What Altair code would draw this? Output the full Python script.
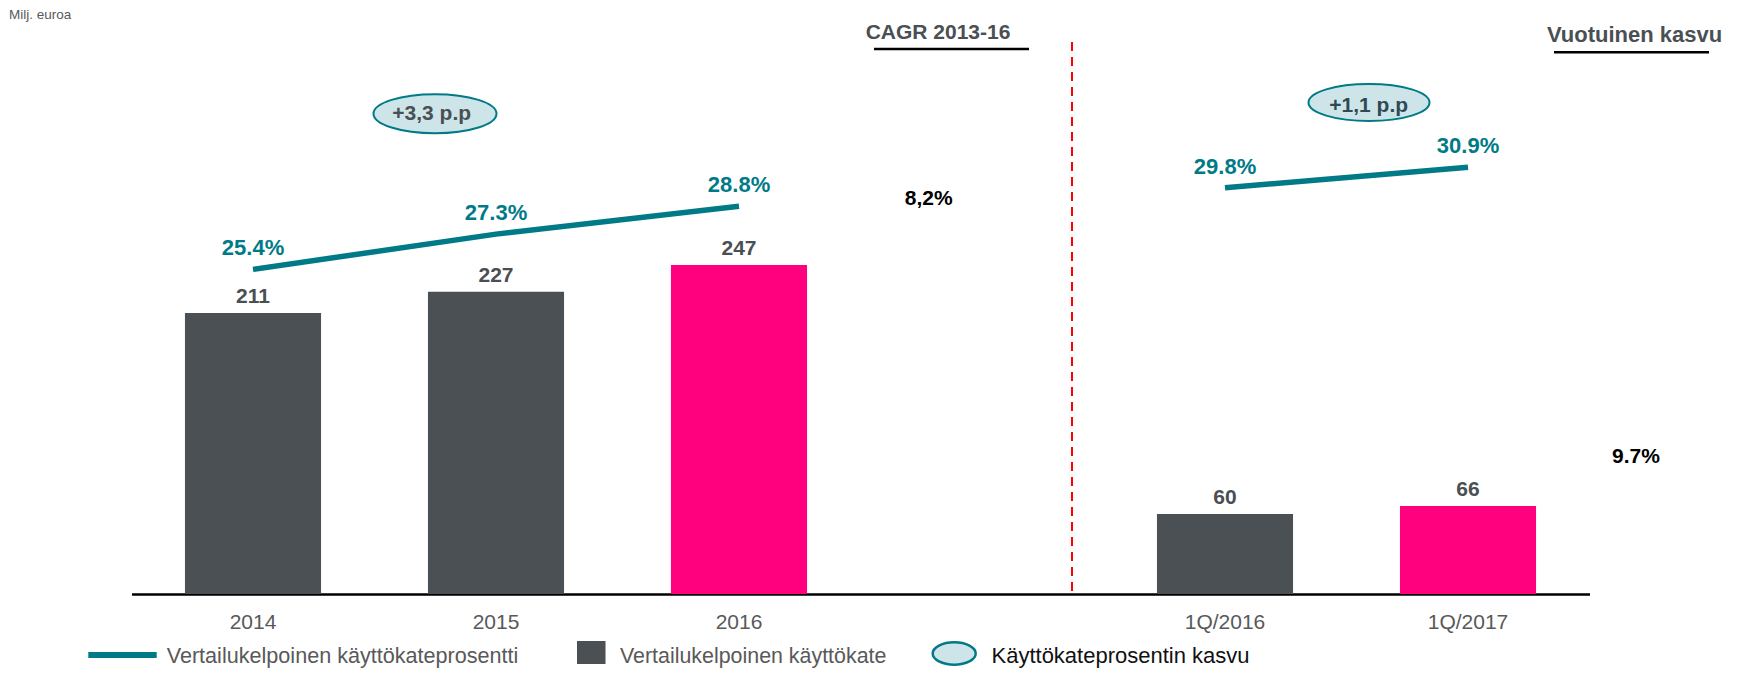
import altair as alt
import pandas as pd

# ---------------- data ----------------
categories = ["2014", "2015", "2016", "CAGR", "1Q/2016", "1Q/2017"]
gap_slot = "CAGR"

bar_categories = ["2014", "2015", "2016", "1Q/2016", "1Q/2017"]
bar_values = [211, 227, 247, 60, 66]
bar_kinds = ["aiempi", "aiempi", "viimeisin", "aiempi", "viimeisin"]

pct_categories = ["2014", "2015", "2016", "1Q/2016", "1Q/2017"]
pct_values = [25.4, 27.3, 28.8, 29.8, 30.9]
pct_groups = ["vuosi", "vuosi", "vuosi", "kvartaali", "kvartaali"]

growth_labels = ["+3,3 p.p", "+1,1 p.p"]
growth_rates = ["8,2%", "9.7%"]
headers = ["CAGR 2013-16", "Vuotuinen kasvu"]
unit_label = "Milj. euroa"
legend_labels = [
    "Vertailukelpoinen käyttökateprosentti",
    "Vertailukelpoinen käyttökate",
    "Käyttökateprosentin kasvu",
]

# ---------------- style ----------------
FONT = "Liberation Sans"
TEAL = "#007A87"
BAR_GRAY = "#4B5055"
PINK = "#FF007F"
TEXT_GRAY = "#4A4F54"
LABEL_GRAY = "#595959"
ELLIPSE_FILL = "#CDE5E8"
W, H = 1458, 586

bars_df = pd.DataFrame({"category": bar_categories, "value": bar_values, "kind": bar_kinds})
line_df = pd.DataFrame({"category": pct_categories, "pct": pct_values, "group": pct_groups})
line_df["order"] = range(len(line_df))

x_enc = alt.X(
    "category:N",
    scale=alt.Scale(domain=categories, paddingInner=0.44, paddingOuter=0.22),
    axis=alt.Axis(
        title=None,
        labelExpr="datum.value == 'CAGR' ? '' : datum.value",
        labelAngle=0,
        labelFont=FONT,
        labelFontSize=21,
        labelColor=LABEL_GRAY,
        labelPadding=34,
        labelBaseline="alphabetic",
        ticks=False,
        tickSize=0,
        domainColor="#000000",
        domainWidth=2.5,
        grid=False,
    ),
)
y_bar = alt.Y("value:Q", scale=alt.Scale(domain=[0, 440], nice=False, zero=True), axis=None)
y_pct = alt.Y("pct:Q", scale=alt.Scale(domain=[7.9, 39.49], nice=False, zero=False), axis=None)

bars = alt.Chart(bars_df).mark_bar().encode(
    x=x_enc,
    y=y_bar,
    color=alt.Color("kind:N", scale=alt.Scale(domain=["aiempi", "viimeisin"], range=[BAR_GRAY, PINK]), legend=None),
)
bar_labels = alt.Chart(bars_df).mark_text(
    dy=-10, baseline="alphabetic", font=FONT, fontSize=21, fontWeight="bold", color=TEXT_GRAY
).encode(x=x_enc, y=y_bar, text="value:Q")

line = alt.Chart(line_df).mark_line(color=TEAL, strokeWidth=5.5, strokeCap="butt").encode(
    x=x_enc, y=y_pct, detail="group:N", order="order:Q"
)
line_labels = alt.Chart(line_df).transform_calculate(
    label="format(datum.pct, '.1f') + '%'"
).mark_text(
    dy=-14, baseline="alphabetic", font=FONT, fontSize=22, fontWeight="bold", color=TEAL
).encode(x=x_enc, y=y_pct, text="label:N")

divider = alt.Chart(pd.DataFrame({"category": [gap_slot]})).mark_rule(
    color="#FF0000", strokeWidth=2, strokeDash=[9, 6], xOffset=90
).encode(x=x_enc, y=alt.value(34), y2=alt.value(H))


def ellipse_path(r):
    k = 0.5523
    kr = round(k * r, 4)
    return (f"M-1,0 C-1,{-kr} {-k},{-r} 0,{-r} C{k},{-r} 1,{-kr} 1,0 "
            f"C1,{kr} {k},{r} 0,{r} C{-k},{r} -1,{kr} -1,0 Z")


def text_at(txt, x, y, size, color, weight="bold", align="center"):
    return alt.Chart(pd.DataFrame({"t": [txt]})).mark_text(
        font=FONT, fontSize=size, fontWeight=weight, color=color, align=align, baseline="alphabetic"
    ).encode(text="t:N", x=alt.value(x), y=alt.value(y))


def hline(tag, x1, x2, y, color, width):
    return alt.Chart(pd.DataFrame({"t": [tag]})).mark_rule(color=color, strokeWidth=width).encode(
        x=alt.value(x1), x2=alt.value(x2), y=alt.value(y)
    )


def ellipse(tag, x, y, w, ratio, sw=2):
    return alt.Chart(pd.DataFrame({"t": [tag]})).mark_point(
        shape=ellipse_path(ratio), size=w * w, filled=True, fill=ELLIPSE_FILL,
        stroke=TEAL, strokeWidth=sw, opacity=1, fillOpacity=1, strokeOpacity=1
    ).encode(x=alt.value(x), y=alt.value(y))


annotations = [
    text_at(unit_label, -122.5, 11, 13.5, LABEL_GRAY, weight="normal", align="left"),
    text_at(headers[0], 806.5, 31.3, 21, TEXT_GRAY),
    hline(headers[0], 742.5, 897.5, 41, "#000000", 2.5),
    text_at(headers[1], 1503, 33.7, 22, TEXT_GRAY),
    hline(headers[1], 1422.5, 1577.5, 44.3, "#000000", 2.5),
    ellipse(growth_labels[0], 303.5, 105.7, 123, 0.317),
    text_at(growth_labels[0], 300.2, 112, 21, TEXT_GRAY),
    ellipse(growth_labels[1], 1237.5, 94.5, 121, 0.306),
    text_at(growth_labels[1], 1237.2, 103.7, 21, "#2F4A55"),
    text_at(growth_rates[0], 797.2, 197, 21, "#000000"),
    text_at(growth_rates[1], 1504.5, 455.3, 21, "#000000"),
    # legend
    hline(legend_labels[0], -43.2, 25.2, 647, TEAL, 6),
    text_at(legend_labels[0], 35.2, 654.7, 21.6, LABEL_GRAY, weight="normal", align="left"),
    alt.Chart(pd.DataFrame({"t": [legend_labels[1]]})).mark_rect(color=BAR_GRAY).encode(
        x=alt.value(445.5), x2=alt.value(474), y=alt.value(633), y2=alt.value(656)
    ),
    text_at(legend_labels[1], 488.5, 655.3, 21.4, LABEL_GRAY, weight="normal", align="left"),
    ellipse(legend_labels[2], 822.7, 645.5, 43, 0.52, sw=2.5),
    text_at(legend_labels[2], 860, 655, 22, "#111111", weight="normal", align="left"),
]

chart = alt.layer(
    bars, bar_labels, line, line_labels, divider, *annotations
).resolve_scale(y="independent").properties(
    width=W,
    height=H,
    autosize=alt.AutoSizeParams(type="none"),
    padding={"left": 123.5, "top": 0, "right": 141.5, "bottom": 87},
    background="white",
).configure(font=FONT).configure_view(strokeWidth=0, strokeOpacity=0)

chart.save("out.html", embed_options={"renderer": "svg", "actions": False})
